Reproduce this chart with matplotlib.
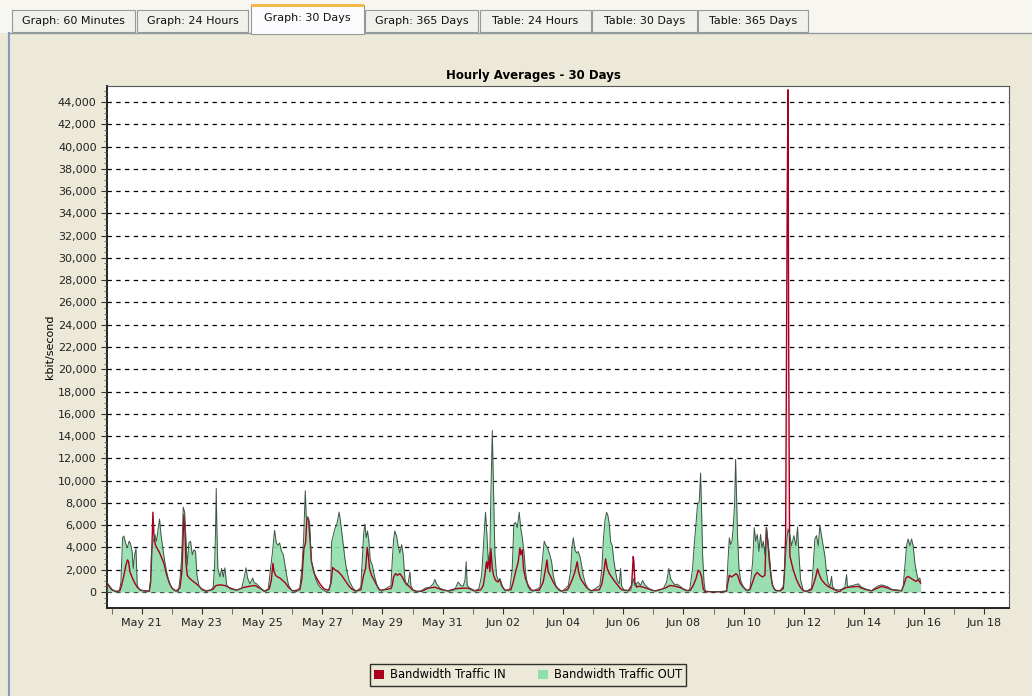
"""Hourly bandwidth averages over 30 days, drawn like the Java monitor screen."""

import matplotlib
matplotlib.use("Agg")
import matplotlib.pyplot as plt
import matplotlib.dates as mdates
import matplotlib.ticker as mticker
from matplotlib.patches import Patch, Rectangle
import pandas as pd

W, H = 1032, 696
START = pd.Timestamp("2008-05-19 00:00")

tab_labels = ["Graph: 60 Minutes", "Graph: 24 Hours", "Graph: 30 Days", "Graph: 365 Days",
              "Table: 24 Hours", "Table: 30 Days", "Table: 365 Days"]
selected_tab = "Graph: 30 Days"

# hours after May 19 00:00 and kbit/s
out_hours = [
    20.6, 24.1, 26.7, 30.2, 31.5, 32.8, 33.9, 35.2, 36.5, 38.1, 39.2, 40.5, 41.3, 42.4, 43.5, 44.5,
    46.6, 50.6, 54.1, 55.2, 56.0, 57.3, 58.6, 59.9, 61.3, 62.3, 63.4, 64.7, 66.0, 67.4, 69.2, 71.1,
    73.8, 77.2, 78.5, 79.9, 81.2, 82.3, 83.3, 84.4, 85.7, 87.0, 88.4, 89.7, 91.0, 92.1, 93.7, 95.8,
    99.3, 103.0, 105.1, 106.2, 107.0, 107.5, 108.0, 108.8, 110.4, 111.8, 113.1, 114.4, 115.8, 118.4,
    123.7, 127.7, 129.6, 131.2, 132.5, 134.4, 136.5, 137.8, 139.7, 142.3, 145.5, 149.0, 150.8, 152.4,
    154.0, 155.4, 156.7, 158.0, 159.4, 161.0, 162.3, 163.6, 165.2, 167.6, 171.6, 174.2, 175.8, 177.2,
    178.5, 179.3, 180.6, 182.0, 183.3, 184.9, 186.7, 188.9, 191.5, 195.0, 197.6, 198.8, 199.5, 202.1,
    203.5, 205.5, 206.6, 208.2, 210.1, 211.4, 213.5, 216.7, 219.5, 222.8, 223.9, 225.0, 226.0, 227.1,
    228.1, 229.2, 230.3, 231.9, 233.5, 235.1, 236.7, 239.3, 246.8, 247.8, 248.9, 249.9, 251.3, 252.6,
    253.9, 255.3, 256.6, 257.9, 259.2, 260.6, 261.9, 262.7, 264.6, 268.6, 271.2, 273.9, 277.9, 280.5,
    281.8, 283.2, 285.8, 289.8, 293.8, 297.8, 299.1, 300.4, 302.6, 304.4, 305.8, 306.8, 307.6, 309.7,
    313.7, 316.9, 319.1, 320.9, 322.2, 323.3, 324.4, 325.7, 326.5, 327.6, 328.1, 328.6, 329.7, 331.0,
    332.3, 333.7, 335.0, 336.3, 338.2, 341.6, 343.5, 344.8, 346.2, 347.5, 349.1, 350.2, 351.5, 352.8,
    354.1, 355.7, 357.6, 360.3, 365.6, 367.4, 369.0, 370.1, 371.7, 373.5, 374.9, 376.2, 378.1, 380.7,
    384.2, 388.2, 390.0, 391.1, 392.2, 393.5, 394.8, 396.1, 397.5, 398.8, 400.1, 402.0, 404.1, 406.8,
    413.4, 415.0, 416.1, 417.4, 418.7, 419.8, 420.9, 421.9, 423.3, 424.6, 425.9, 427.2, 428.8, 429.9,
    430.7, 432.6, 438.0, 440.0, 441.3, 444.0, 445.9, 447.4, 449.3, 451.2, 454.6, 458.6, 463.9, 466.6,
    468.4, 469.8, 471.4, 473.2, 475.1, 477.2, 479.9, 483.9, 485.2, 487.3, 488.6, 490.0, 491.3, 492.6,
    493.7, 494.5, 495.3, 496.4, 497.4, 503.0, 509.0, 514.4, 515.5, 516.6, 517.6, 518.7, 519.7, 520.8,
    521.6, 522.4, 523.2, 524.3, 525.6, 527.2, 529.0, 530.9, 533.0, 535.2, 536.5, 537.6, 538.9, 540.2,
    541.5, 542.6, 543.7, 545.0, 546.3, 547.7, 549.0, 550.3, 552.2, 554.3, 556.9, 559.6, 560.9, 562.2,
    563.5, 564.9, 566.2, 568.1, 569.7, 571.0, 572.0, 573.4, 575.5, 578.2, 582.1, 583.5, 584.8, 586.1,
    587.5, 588.8, 590.1, 591.4, 592.8, 594.1, 595.4, 596.8, 598.1, 598.9, 600.7, 603.4, 606.1, 608.7,
    610.1, 610.8, 614.0, 616.7, 619.4, 622.0, 626.0, 630.0, 632.6, 635.3, 638.0, 640.6, 643.3, 645.9,
    649.9, 653.9, 655.2, 656.6, 657.9, 659.2, 660.6, 661.9, 663.2, 664.5, 665.9, 667.2, 668.5, 669.1,
]
out_kbps = [
    830, 280, 60, 90, 890, 4870, 5020, 4400, 3950, 4560, 4310, 3580, 2110, 3340, 3890, 580,
    210, 60, 90, 1190, 3950, 4560, 5170, 4560, 5780, 6550, 5170, 4100, 3030, 2110, 1190, 580,
    150, 30, 1040, 3030, 7620, 7160, 4870, 2420, 4410, 4560, 3340, 3790, 3640, 1500, 580, 210,
    60, 150, 430, 2420, 5780, 9300, 5780, 2110, 1350, 2110, 1350, 2170, 640, 280,
    150, 340, 1190, 2170, 1250, 730, 1250, 830, 730, 430, 60, 280, 2110, 3640,
    5540, 4410, 4190, 4410, 3700, 3340, 2420, 1500, 580, 150, 30, 430, 2110, 4870,
    9090, 6700, 6760, 6090, 2720, 2110, 1190, 640, 280, 30, 150, 900, 4480, 5700,
    6000, 7170, 6310, 4790, 3000, 2000, 1000, 300, 60, 430, 2720, 5170, 6090, 4870,
    5480, 4560, 2880, 2420, 1500, 830, 280, 60, 580, 2720, 4710, 5480, 5020, 4100,
    3490, 4250, 3340, 1190, 580, 830, 1810, 580, 120, 30, 120, 340, 430, 730,
    1130, 730, 340, 150, 90, 210, 580, 890, 580, 520, 1040, 2720, 580, 340,
    120, 280, 1500, 4870, 7160, 5170, 2720, 3640, 8840, 14500, 11900, 8840, 3340, 1500,
    1040, 1190, 730, 340, 90, 280, 2110, 6090, 6240, 5780, 7160, 5780, 4870, 3640,
    1810, 580, 210, 60, 430, 2720, 4560, 4250, 3950, 3340, 2720, 1500, 640, 150,
    90, 580, 1810, 3950, 4870, 3790, 3490, 3640, 3180, 2420, 1500, 730, 280, 90,
    580, 2110, 4560, 6400, 7160, 6850, 6090, 4560, 4100, 2720, 1810, 1040, 730, 2110,
    580, 150, 150, 1200, 580, 890, 580, 1040, 640, 430, 150, 90, 280, 890,
    2110, 1190, 890, 640, 700, 520, 280, 90, 340, 2110, 4250, 6090, 7930, 8080,
    10680, 7310, 3340, 890, 90, 20, 20, 90, 2720, 4870, 4250, 4560, 5780, 7930,
    11900, 8540, 4870, 2110, 1040, 580, 280, 90, 280, 2720, 5780, 4560, 5170, 3640,
    5170, 3950, 4560, 3340, 5780, 4250, 2720, 890, 280, 90, 120, 490, 2320, 4450,
    5670, 5060, 4150, 5060, 4150, 5830, 3540, 1100, 180, 60, 340, 2320, 4760, 5060,
    4150, 5980, 5060, 4150, 3230, 1710, 790, 490, 1400, 490, 240, 180, 240, 430,
    1560, 490, 550, 640, 730, 430, 240, 120, 340, 550, 640, 550, 430, 240,
    180, 120, 490, 2320, 4150, 4760, 4150, 4760, 4150, 2620, 1710, 1100, 1250, 950,
]

in_hours = [
    20.6, 24.1, 28.0, 30.7, 32.0, 33.9, 35.5, 36.8, 37.6, 38.7, 40.3, 42.4, 44.5, 47.2, 54.1, 55.2,
    56.2, 57.0, 57.8, 58.9, 60.5, 62.1, 63.9, 65.8, 67.9, 70.0, 72.2, 75.4, 78.5, 80.1, 81.7, 82.5,
    83.3, 84.4, 86.0, 88.1, 90.5, 93.2, 95.8, 99.3, 104.6, 107.3, 110.4, 114.4, 118.4, 123.7, 129.0,
    134.4, 138.3, 142.3, 146.3, 149.8, 151.4, 152.7, 153.5, 154.8, 156.4, 158.3, 160.4, 162.5, 165.2,
    168.4, 174.2, 175.8, 177.4, 178.7, 179.8, 181.1, 182.2, 183.5, 185.4, 187.5, 190.2, 193.4, 197.1,
    199.0, 200.3, 202.1, 205.0, 207.4, 209.5, 211.4, 213.5, 215.4, 218.5, 222.8, 225.0, 226.6, 227.9,
    228.7, 229.7, 231.3, 233.5, 235.6, 238.0, 246.8, 247.8, 248.9, 250.5, 252.1, 253.9, 255.8, 257.9,
    260.6, 263.8, 267.2, 271.2, 276.5, 281.8, 287.2, 292.5, 297.8, 303.1, 308.4, 313.7, 318.5, 320.4,
    321.7, 323.0, 323.8, 324.9, 325.7, 326.5, 327.6, 328.6, 330.2, 332.3, 333.7, 335.0, 337.7, 342.5,
    344.3, 346.2, 348.3, 349.6, 350.4, 351.5, 352.5, 354.1, 356.3, 358.9, 365.0, 368.2, 370.1, 371.2,
    372.2, 374.3, 376.2, 378.9, 382.3, 387.5, 389.0, 391.6, 393.5, 395.3, 396.4, 398.0, 400.1, 402.8,
    406.0, 413.0, 415.0, 416.6, 417.9, 419.3, 420.9, 422.7, 424.6, 426.7, 428.8, 430.7, 436.0, 438.7,
    439.5, 440.0, 440.5, 441.3, 442.7, 444.0, 448.0, 452.0, 457.3, 465.3, 469.2, 473.2, 477.2, 482.5,
    485.5, 487.8, 490.0, 491.8, 493.2, 494.5, 495.8, 497.2, 503.0, 509.0, 514.4, 515.0, 516.6, 518.4,
    520.3, 521.9, 523.2, 525.1, 527.7, 530.4, 533.0, 535.2, 537.0, 538.9, 541.0, 543.1, 545.0, 546.1,
    546.9, 547.7, 548.5, 549.8, 551.1, 553.2, 557.0, 559.6, 560.5, 561.5, 562.3, 562.8, 563.4, 564.0,
    564.6, 564.9, 567.5, 570.2, 572.8, 575.5, 578.2, 582.1, 584.0, 585.6, 586.9, 588.3, 590.1, 592.8,
    595.4, 598.1, 602.1, 604.7, 606.1, 610.1, 614.0, 619.4, 622.0, 626.0, 630.0, 632.6, 638.0, 643.3,
    645.9, 653.9, 655.8, 657.4, 659.2, 661.1, 663.2, 665.3, 667.2, 669.1,
]
in_kbps = [
    730, 210, 30, 120, 580, 1500, 2420, 2880, 2720, 1810, 1350, 830, 430, 150, 60, 890,
    3950, 7160, 5170, 4250, 3890, 3580, 3090, 2570, 1560, 830, 340, 90, 340, 1810, 6950, 5780,
    2720, 1500, 1250, 1040, 830, 580, 280, 90, 210, 580, 640, 580, 370, 150, 400,
    520, 580, 340, 60, 280, 1040, 2570, 1870, 1500, 1350, 1250, 1040, 830, 400,
    90, 210, 1190, 3890, 4410, 6640, 6550, 4870, 2720, 1740, 1250, 730, 280, 150,
    800, 2200, 2000, 1800, 1500, 1150, 830, 500, 280, 80, 200, 1500, 2110, 4000,
    3340, 2110, 1500, 1040, 580, 150, 300, 580, 1350, 1650, 1500, 1650, 1350, 890,
    580, 210, 60, 60, 340, 430, 210, 90, 280, 340, 340, 90, 200, 580,
    1500, 2720, 2110, 3180, 1810, 3900, 2110, 1500, 1040, 890, 1130, 580, 150, 200,
    890, 1810, 2720, 3950, 3340, 3790, 2110, 1190, 580, 150, 150, 890, 2110, 2880,
    1810, 1350, 890, 400, 90, 200, 500, 1190, 1810, 2720, 1810, 1190, 830, 400,
    120, 200, 730, 1810, 2970, 2110, 1650, 1350, 1040, 730, 430, 210, 100, 580,
    2110, 3180, 2720, 890, 430, 520, 430, 280, 90, 340, 580, 520, 400, 120,
    150, 580, 1190, 1960, 1810, 1350, 280, 30, 20, 20, 60, 580, 1500, 1350,
    1500, 1650, 1500, 830, 430, 150, 200, 890, 1500, 1750, 1500, 1350, 1500, 5780,
    4870, 3950, 2720, 1500, 580, 150, 100, 300, 1500, 5000, 25000, 36000, 45100, 20000,
    6000, 3230, 2010, 1100, 490, 120, 50, 200, 790, 1400, 2070, 1560, 1100, 730,
    490, 340, 120, 30, 200, 400, 450, 500, 350, 200, 100, 250, 500, 350,
    200, 100, 640, 1250, 1400, 1250, 1100, 950, 1100, 790,
]

IN_COLOR = "#a8001c"
OUT_FILL = "#8fdfac"
OUT_EDGE = "#3f5446"
BG = "#ece9d8"

plt.rcParams["font.family"] = ["DejaVu Sans"]
fig = plt.figure(figsize=(W / 100, H / 100), dpi=100, facecolor=BG)


def fig_rect(x0, y0, x1, y1, **kw):
    """Rectangle given in screen pixels (origin top-left)."""
    fig.add_artist(Rectangle((x0 / W, 1 - y1 / H), (x1 - x0) / W, (y1 - y0) / H,
                             transform=fig.transFigure, **kw))


# window chrome: tab strip and panel border
fig_rect(0, 0, W, 33, facecolor="#f7f6f1", edgecolor="none")
fig.add_artist(plt.Line2D([8 / W, 1], [1 - 33 / H] * 2, transform=fig.transFigure,
                          color="#919b9c", lw=1))
fig.add_artist(plt.Line2D([8.5 / W] * 2, [0, 1 - 33 / H], transform=fig.transFigure,
                          color="#7f9db9", lw=1.5))
tab_edges = [(12, 135), (137, 248), (251, 364), (365, 478), (480, 591), (592, 697), (698, 808)]
for label, (x0, x1) in zip(tab_labels, tab_edges):
    if label == selected_tab:
        fig_rect(x0, 5, x1, 34, facecolor="#fcfcfe", edgecolor="#919b9c", lw=0.8, zorder=3)
        fig_rect(x0, 4, x1, 7, facecolor="#f2b84a", edgecolor="none", zorder=4)
        ty = 18
    else:
        fig_rect(x0, 10, x1, 32, facecolor="#f1f0ea", edgecolor="#919b9c", lw=0.8, zorder=2)
        ty = 21
    fig.text((x0 + x1) / 2 / W, 1 - ty / H, label, ha="center", va="center",
             fontsize=8, color="#111111", zorder=5)

ax = fig.add_axes([107 / W, 1 - 608 / H, (1009 - 107) / W, (608 - 86) / H])
ax.set_facecolor("white")

out_t = mdates.date2num(START + pd.to_timedelta(out_hours, unit="h"))
in_t = mdates.date2num(START + pd.to_timedelta(in_hours, unit="h"))

ax.fill_between(in_t, in_kbps, 0, color=IN_COLOR, alpha=0.12, lw=0, zorder=2)
ax.fill_between(out_t, out_kbps, 0, color=OUT_FILL, alpha=0.9, lw=0, zorder=3)
ax.plot(in_t, in_kbps, color=IN_COLOR, lw=1.0, zorder=4)
ax.plot(out_t, out_kbps, color=OUT_EDGE, lw=0.7, zorder=5)

ax.set_xlim(mdates.date2num(START + pd.Timedelta(hours=20.4)),
            mdates.date2num(START + pd.Timedelta(hours=739.6)))
ax.set_ylim(-1440, 45440)

ax.set_xticks(mdates.date2num(pd.date_range("2008-05-21", "2008-06-18", freq="2D")))
ax.set_xticks(mdates.date2num(pd.date_range("2008-05-20", "2008-06-18", freq="D")), minor=True)
ax.xaxis.set_major_formatter(mdates.DateFormatter("%b %d"))
ax.yaxis.set_major_locator(mticker.MultipleLocator(2000))
ax.yaxis.set_minor_locator(mticker.MultipleLocator(500))
ax.yaxis.set_major_formatter(mticker.StrMethodFormatter("{x:,.0f}"))
ax.tick_params(which="major", length=4, width=0.8, color="#333333", labelsize=8,
               labelcolor="#222222")
ax.tick_params(which="minor", length=2, width=0.6, color="#555555")
ax.tick_params(axis="x", which="both", length=4, pad=3)

ax.grid(axis="y", which="major", color="black", lw=0.9, linestyle=(0, (3.5, 3.5)))
ax.set_axisbelow(False)
for side in ("left", "bottom"):
    ax.spines[side].set_linewidth(1.4)
    ax.spines[side].set_color("#222222")
for side in ("right", "top"):
    ax.spines[side].set_linewidth(0.8)
    ax.spines[side].set_color("#555555")

ax.set_ylabel("kbit/second", fontsize=8, labelpad=2)
fig.text(533 / W, 1 - 75 / H, "Hourly Averages - 30 Days", ha="center", va="center",
         fontsize=8.5, fontweight="bold")

handles = [Patch(facecolor=IN_COLOR, edgecolor="none", label="Bandwidth Traffic IN"),
           Patch(facecolor=OUT_FILL, edgecolor="none", label="Bandwidth Traffic OUT")]
leg = fig.legend(handles=handles, loc="center", bbox_to_anchor=(528 / W, 1 - 675 / H),
                 ncol=2, fontsize=8.3, frameon=True, fancybox=False, handlelength=0.9,
                 handleheight=0.9, handletextpad=0.5, columnspacing=2.8,
                 borderpad=0.35)
leg.get_frame().set_edgecolor("black")
leg.get_frame().set_linewidth(1.0)
leg.get_frame().set_facecolor(BG)

fig.savefig("out.png", dpi=100, facecolor=fig.get_facecolor())
